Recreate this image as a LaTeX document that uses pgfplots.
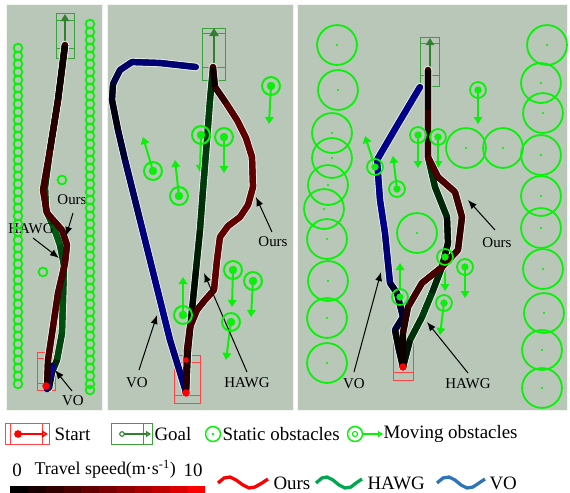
\documentclass[border=0pt]{standalone}
\usepackage{pgfplots}
\pgfplotsset{compat=1.18}
\usepackage{fontspec}
\setmainfont{Liberation Serif}
\usetikzlibrary{arrows.meta}
\definecolor{panel}{RGB}{184,199,184}
\definecolor{obs}{RGB}{10,240,10}
\definecolor{goalc}{RGB}{60,160,60}
\definecolor{startc}{RGB}{255,70,70}
\definecolor{lred}{RGB}{250,0,0}
\definecolor{lgreen}{RGB}{0,166,80}
\definecolor{lblue}{RGB}{46,117,182}
\definecolor{oursbase}{RGB}{60,0,0}
\definecolor{hawgbase}{RGB}{0,45,10}
\definecolor{vobase}{RGB}{0,0,110}
\pgfplotsset{
 colormap={oursmap}{rgb255=(0,0,0) rgb255=(240,0,0)},
 colormap={hawgmap}{rgb255=(0,0,0) rgb255=(0,200,40)},
 colormap={vomap}{rgb255=(0,0,0) rgb255=(0,0,230)},
 traj/.style={mesh, point meta=explicit, line width=6.2bp},
 base/.style={point meta=explicit, line width=6.2bp, line cap=round, line join=round},
 halo/.style={point meta=explicit, white!60!panel, line width=8.4bp, line cap=round, line join=round},
 mov/.style={obs, line width=2bp, -{Triangle[width=8.5bp,length=7bp]}},
 ann/.style={black, line width=1bp, -{Latex[width=7bp,length=9bp]}},
}
\pgfplotstableread{
x y m
65 45 0
58 100 1
50 150 2
45 187 3
46 210 4
54 228 5
60 245 4
64 265 3
63 300 4
62 333 4
57 360 3
52 372 1
49 388 0
}\hawgA
\pgfplotstableread{
x y m
47 389 8
49 378 8
52 366 8
}\voA
\pgfplotstableread{
x y m
65 45 0
58 100 1
50 150 2
43 190 3
47 213 3
62 230 3
67 245 3
65 263 3
58 293 3
53 327 3
48 360 2
47 387 1
}\oursA
\pgfplotstableread{
x y m
196 67 5
160 63 5
132 62 5
120 70 4
113 84 2
112 100 0
118 130 1
125 160 3
140 220 5
155 280 6
170 340 6
186 392 4
}\voB
\pgfplotstableread{
x y m
213 67 2
210 100 3
207 140 3
203 190 3
200 230 2
196 270 1
192 310 0
188 350 0
186 392 0
}\hawgB
\pgfplotstableread{
x y m
213 67 0
215 87 1
226 103 3
237 120 4
246 138 4
252 157 4
253 187 4
248 205 4
240 217 4
228 226 4
220 237 4
217 260 4
214 290 4
205 300 3
197 310 3
190 327 3
187 350 2
186 393 1
}\oursB
\pgfplotstableread{
x y m
420 87 6
398 124 6
377 160 6
380 200 6
385 233 6
390 283 4
397 293 0
403 317 4
395 330 0
399 350 0
403 367 0
}\voC
\pgfplotstableread{
x y m
428 70 0
428 120 1
428 157 2
435 187 3
447 217 1
448 243 0
442 267 1
432 293 3
422 317 3
410 340 2
403 367 0
}\hawgC
\pgfplotstableread{
x y m
428 70 0
428 110 1
428 157 3
438 177 3
455 192 3
462 217 2
458 250 2
442 267 3
422 283 3
408 307 2
403 333 1
403 367 0
}\oursC
\begin{document}
\begin{tikzpicture}
\begin{axis}[
 x=1bp, y=1bp, xmin=0, xmax=570, ymin=0, ymax=493, y dir=reverse,
 hide axis, clip=false, point meta min=0, point meta max=10,
]
% panels
\addplot[fill=panel, draw=white!80!panel, line width=1bp] coordinates {(6,4) (102,4) (102,410) (6,410) (6,4)};
\addplot[fill=panel, draw=white!80!panel, line width=1bp] coordinates {(107,4) (293,4) (293,410) (107,410) (107,4)};
\addplot[fill=panel, draw=white!80!panel, line width=1bp] coordinates {(297,4) (567,4) (567,410) (297,410) (297,4)};

% ---- panel 1 static obstacles
\addplot[obs, only marks, mark=o, mark size=4.4, mark options={line width=1.8bp}] coordinates {
(18,48)(18,56)(18,64)(18,72)(18,80)(18,88)(18,96)(18,104)(18,112)(18,120)(18,128)(18,136)(18,144)(18,152)(18,160)(18,168)(18,176)(18,184)(18,192)(18,200)(18,208)(18,216)(18,224)(18,232)(18,240)(18,248)(18,256)(18,264)(18,272)(18,280)(18,288)(18,296)(18,304)(18,312)(18,320)(18,328)(18,336)(18,344)(18,352)(18,360)(18,368)(18,376)(18,384)
(90,24)(90,32)(90,40)(90,48)(90,56)(90,64)(90,72)(90,80)(90,88)(90,96)(90,104)(90,112)(90,120)(90,128)(90,136)(90,144)(90,152)(90,160)(90,168)(90,176)(90,184)(90,192)(90,200)(90,208)(90,216)(90,224)(90,232)(90,240)(90,248)(90,256)(90,264)(90,272)(90,280)(90,288)(90,296)(90,304)(90,312)(90,320)(90,328)(90,336)(90,344)(90,352)(90,360)(90,368)(90,376)(90,384)(90,390)
(62,180)(43,272)};

% ---- panel 3 static obstacles
\addplot[obs, only marks, mark=o, mark size=20, mark options={line width=1.8bp}] coordinates {
(337,45)(338,90)(332,133)(332,158)(328,185)(324,209)(327,239)(328,281)(327,318)(327,363)
(547,45)(541,83)(543,113)(541,155)(541,196)(541,228)(543,269)(544,313)(542,350)(542,388)
(466,148)(503,148)(417,233)};
\addplot[obs, only marks, mark=*, mark size=0.9] coordinates {
(337,45)(338,90)(332,133)(332,158)(328,185)(324,209)(327,239)(328,281)(327,318)(327,363)
(547,45)(541,83)(543,113)(541,155)(541,196)(541,228)(543,269)(544,313)(542,350)(542,388)
(466,148)(503,148)(417,233)};

% ---- moving obstacles panel 2
\addplot[obs, only marks, mark=o, mark size=9, mark options={line width=2bp}] coordinates {
(271,86)(153,171)(179,196)(201,135)(224,137)(233,270)(253,281)(231,322)(183,315)};
\addplot[obs, only marks, mark=*, mark size=4] coordinates {
(271,86)(153,171)(179,196)(201,135)(224,137)(233,270)(253,281)(231,322)(183,315)};
\addplot[mov] coordinates {(271,86)(269,124)};
\addplot[mov] coordinates {(153,171)(143,137)};
\addplot[mov] coordinates {(179,196)(175,160)};
\addplot[mov] coordinates {(201,135)(200,172)};
\addplot[mov] coordinates {(224,137)(224,173)};
\addplot[mov] coordinates {(233,270)(232,307)};
\addplot[mov] coordinates {(253,281)(251,317)};
\addplot[mov] coordinates {(231,322)(226,360)};
\addplot[mov] coordinates {(183,315)(183,277)};

% ---- moving obstacles panel 3
\addplot[obs, only marks, mark=o, mark size=8, mark options={line width=1.8bp}] coordinates {
(478,90)(418,135)(438,137)(375,167)(397,189)(445,257)(465,267)(400,297)(444,303)};
\addplot[obs, only marks, mark=*, mark size=3.4] coordinates {
(478,90)(418,135)(438,137)(375,167)(397,189)(445,257)(465,267)(400,297)(444,303)};
\addplot[mov] coordinates {(478,90)(478,124)};
\addplot[mov] coordinates {(418,135)(418,168)};
\addplot[mov] coordinates {(438,137)(438,168)};
\addplot[mov] coordinates {(375,167)(365,136)};
\addplot[mov] coordinates {(397,189)(393,156)};
\addplot[mov] coordinates {(445,257)(445,291)};
\addplot[mov] coordinates {(465,267)(465,298)};
\addplot[mov] coordinates {(400,297)(400,263)};
\addplot[mov] coordinates {(444,303)(440,335)};

% ---- goal boxes
\addplot[goalc, line width=0.9bp] coordinates {(56,13)(74,13)(74,58)(56,58)(56,13)};
\addplot[goalc, line width=0.9bp] coordinates {(56,20)(74,20)};
\addplot[goalc, line width=0.9bp] coordinates {(56,48)(74,48)};
\addplot[goalc!80!black, line width=1.8bp, -{Triangle[width=8bp,length=7bp]}] coordinates {(65,46)(65,14)};
\addplot[goalc, line width=0.9bp] coordinates {(202,28)(225,28)(225,80)(202,80)(202,28)};
\addplot[goalc, line width=0.9bp] coordinates {(202,33)(225,33)};
\addplot[goalc, line width=0.9bp] coordinates {(202,67)(225,67)};
\addplot[goalc!80!black, line width=1.8bp, -{Triangle[width=9bp,length=8bp]}] coordinates {(214,66)(214,28)};
\addplot[goalc, line width=0.9bp] coordinates {(420,37)(439,37)(439,86)(420,86)(420,37)};
\addplot[goalc, line width=0.9bp] coordinates {(420,43)(439,43)};
\addplot[goalc, line width=0.9bp] coordinates {(420,75)(439,75)};
\addplot[goalc!80!black, line width=1.8bp, -{Triangle[width=8bp,length=7bp]}] coordinates {(430,70)(430,38)};

% ---- start boxes
\addplot[startc, line width=0.9bp] coordinates {(37,352)(55,352)(55,390)(37,390)(37,352)};
\addplot[startc, line width=0.9bp] coordinates {(37,358)(55,358)};
\addplot[startc, line width=0.9bp] coordinates {(37,383)(55,383)};
\addplot[startc, line width=0.9bp] coordinates {(174,355)(200,355)(200,403)(174,403)(174,355)};
\addplot[startc, line width=0.9bp] coordinates {(174,362)(200,362)};
\addplot[startc, line width=0.9bp] coordinates {(174,395)(200,395)};
\addplot[startc, line width=0.9bp] coordinates {(393,338)(413,338)(413,380)(393,380)(393,338)};
\addplot[startc, line width=0.9bp] coordinates {(393,344)(413,344)};
\addplot[startc, line width=0.9bp] coordinates {(393,372)(413,372)};

% ---- trajectories panel 1
\addplot[halo] table[meta=m] {\hawgA};
\addplot[halo] table[meta=m] {\oursA};
\addplot[base, hawgbase] table[meta=m] {\hawgA};
\addplot[traj, colormap name=hawgmap] table[meta=m] {\hawgA};
\addplot[base, vobase, line width=6.5bp] table[meta=m] {\voA};
\addplot[traj, colormap name=vomap, line width=6.5bp] table[meta=m] {\voA};
\addplot[base, oursbase] table[meta=m] {\oursA};
\addplot[traj, colormap name=oursmap] table[meta=m] {\oursA};

% ---- trajectories panel 2
\addplot[halo] table[meta=m] {\voB};
\addplot[halo] table[meta=m] {\hawgB};
\addplot[halo] table[meta=m] {\oursB};
\addplot[base, vobase] table[meta=m] {\voB};
\addplot[traj, colormap name=vomap] table[meta=m] {\voB};
\addplot[base, hawgbase] table[meta=m] {\hawgB};
\addplot[traj, colormap name=hawgmap] table[meta=m] {\hawgB};
\addplot[base, oursbase] table[meta=m] {\oursB};
\addplot[traj, colormap name=oursmap] table[meta=m] {\oursB};

% ---- trajectories panel 3
\addplot[halo] table[meta=m] {\voC};
\addplot[halo] table[meta=m] {\hawgC};
\addplot[halo] table[meta=m] {\oursC};
\addplot[base, vobase] table[meta=m] {\voC};
\addplot[traj, colormap name=vomap] table[meta=m] {\voC};
\addplot[base, hawgbase] table[meta=m] {\hawgC};
\addplot[traj, colormap name=hawgmap] table[meta=m] {\hawgC};
\addplot[base, oursbase] table[meta=m] {\oursC};
\addplot[traj, colormap name=oursmap] table[meta=m] {\oursC};

\addplot[red, only marks, mark=*, mark size=3.5] coordinates {(46,386)(186,393)(403,367)};
\addplot[red, only marks, mark=*, mark size=2.5] coordinates {(186,360)};

% ---- annotations
\addplot[ann] coordinates {(73,213)(66,236)};
\addplot[ann] coordinates {(33,238)(59,258)};
\addplot[ann] coordinates {(72,391)(55,370)};
\node[font=\fontsize{15}{15}\selectfont] at (axis cs:72,200) {Ours};
\node[font=\fontsize{15}{15}\selectfont] at (axis cs:31,229) {HAWG};
\node[font=\fontsize{15}{15}\selectfont] at (axis cs:73,401) {VO};

\addplot[ann] coordinates {(272,232)(256,197)};
\addplot[ann] coordinates {(247,372)(204,273)};
\addplot[ann] coordinates {(139,370)(157,315)};
\node[font=\fontsize{15}{15}\selectfont] at (axis cs:273,242) {Ours};
\node[font=\fontsize{15}{15}\selectfont] at (axis cs:247,383) {HAWG};
\node[font=\fontsize{15}{15}\selectfont] at (axis cs:137,383) {VO};

\addplot[ann] coordinates {(495,230)(468,200)};
\addplot[ann] coordinates {(468,373)(427,322)};
\addplot[ann] coordinates {(354,372)(381,272)};
\node[font=\fontsize{15}{15}\selectfont] at (axis cs:497,243) {Ours};
\node[font=\fontsize{15}{15}\selectfont] at (axis cs:468,384) {HAWG};
\node[font=\fontsize{15}{15}\selectfont] at (axis cs:354,384) {VO};

% ---- legend row 1
\addplot[startc, line width=0.9bp] coordinates {(5,423)(49,423)(49,444)(5,444)(5,423)};
\addplot[startc, line width=0.9bp] coordinates {(10,423)(10,444)};
\addplot[startc, line width=0.9bp] coordinates {(42,423)(42,444)};
\addplot[red, line width=1.5bp, -{Triangle[open, width=7bp,length=6bp]}] coordinates {(18,434)(48,434)};
\addplot[red, only marks, mark=*, mark size=3.6] coordinates {(18,434)};
\node[anchor=west, font=\fontsize{19}{19}\selectfont] at (axis cs:51,434) {Start};

\addplot[goalc, line width=0.9bp] coordinates {(111,423)(152,423)(152,444)(111,444)(111,423)};
\addplot[goalc, line width=0.9bp] coordinates {(143,423)(143,444)};
\addplot[goalc!80!black, line width=1.3bp, -{Triangle[open, width=6bp,length=5bp]}] coordinates {(124,434)(151,434)};
\addplot[goalc!80!black, only marks, mark=o, mark size=2.3, mark options={line width=1.1bp}] coordinates {(122,434)};
\node[anchor=west, font=\fontsize{19}{19}\selectfont] at (axis cs:151,434) {Goal};

\addplot[obs, only marks, mark=o, mark size=7.5, mark options={line width=1.5bp}] coordinates {(213,434)};
\addplot[obs, only marks, mark=*, mark size=1] coordinates {(213,434)};
\node[anchor=west, font=\fontsize{19}{19}\selectfont] at (axis cs:219,434) {Static obstacles};

\addplot[obs, line width=1.3bp, -{Triangle[open, width=6bp,length=5bp]}] coordinates {(362,434)(383,434)};
\addplot[obs, only marks, mark=o, mark size=7.5, mark options={line width=1.5bp}] coordinates {(355,434)};
\addplot[obs, only marks, mark=o, mark size=2.6, mark options={line width=1.1bp}] coordinates {(355,434)};
\node[anchor=west, font=\fontsize{19}{19}\selectfont] at (axis cs:380,434) {Moving obstacles};

% ---- legend row 2: colour bar
\addplot[fill={rgb,255:red,0;green,0;blue,0}, draw=none] coordinates {(10,486)(28,486)(28,493)(10,493)};
\addplot[fill={rgb,255:red,24;green,0;blue,0}, draw=none] coordinates {(28,486)(46,486)(46,493)(28,493)};
\addplot[fill={rgb,255:red,48;green,0;blue,0}, draw=none] coordinates {(46,486)(64,486)(64,493)(46,493)};
\addplot[fill={rgb,255:red,72;green,0;blue,0}, draw=none] coordinates {(64,486)(81,486)(81,493)(64,493)};
\addplot[fill={rgb,255:red,96;green,0;blue,0}, draw=none] coordinates {(81,486)(99,486)(99,493)(81,493)};
\addplot[fill={rgb,255:red,120;green,0;blue,0}, draw=none] coordinates {(99,486)(117,486)(117,493)(99,493)};
\addplot[fill={rgb,255:red,144;green,0;blue,0}, draw=none] coordinates {(117,486)(135,486)(135,493)(117,493)};
\addplot[fill={rgb,255:red,168;green,0;blue,0}, draw=none] coordinates {(135,486)(152,486)(152,493)(135,493)};
\addplot[fill={rgb,255:red,192;green,0;blue,0}, draw=none] coordinates {(152,486)(170,486)(170,493)(152,493)};
\addplot[fill={rgb,255:red,220;green,0;blue,0}, draw=none] coordinates {(170,486)(188,486)(188,493)(170,493)};
\addplot[fill={rgb,255:red,250;green,0;blue,0}, draw=none] coordinates {(188,486)(205,486)(205,493)(188,493)};
\node[font=\fontsize{19}{19}\selectfont] at (axis cs:17,470) {0};
\node[anchor=west, font=\fontsize{18}{18}\selectfont] at (axis cs:31,469) {Travel speed(m·s\textsuperscript{-1})};
\node[font=\fontsize{19}{19}\selectfont] at (axis cs:193,470) {10};

% ---- legend row 2: waves
\addplot[lred, line width=3.3bp] coordinates {(218,483)(224,478)(230,477)(236,480)(243,485)(249,488)(255,487)(262,483)(268,479)};
\node[anchor=west, font=\fontsize{19}{19}\selectfont] at (axis cs:270,483) {Ours};
\addplot[lgreen, line width=3.3bp] coordinates {(316,483)(322,478)(327,477)(333,480)(339,485)(345,488)(351,487)(356,483)(362,479)};
\node[anchor=west, font=\fontsize{19}{19}\selectfont] at (axis cs:364,483) {HAWG};
\addplot[lblue, line width=3.3bp] coordinates {(437,483)(443,478)(449,477)(455,480)(461,485)(467,488)(473,487)(479,483)(485,479)};
\node[anchor=west, font=\fontsize{19}{19}\selectfont] at (axis cs:486,483) {VO};
\end{axis}
\pgfresetboundingbox
\path[use as bounding box] (0,0) rectangle (570bp,493bp);
\end{tikzpicture}
\end{document}
